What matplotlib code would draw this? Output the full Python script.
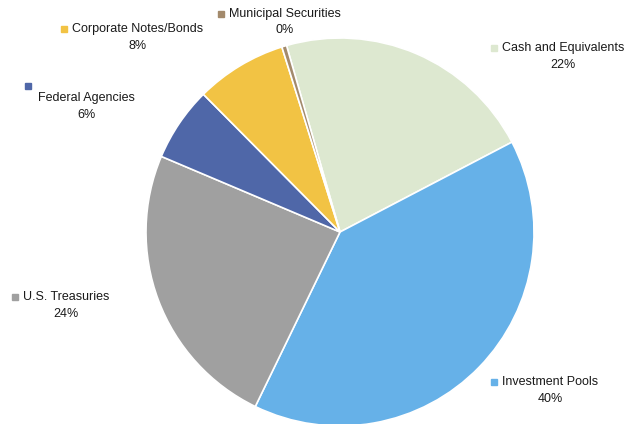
import matplotlib
matplotlib.use("Agg")
import matplotlib.pyplot as plt

# data
categories = ["Cash and Equivalents", "Investment Pools", "U.S. Treasuries",
              "Federal Agencies", "Corporate Notes/Bonds", "Municipal Securities"]
shares = [21.8, 39.9, 24.2, 6.2, 7.6, 0.4]
colors = ["#DDE8D0", "#66B1E8", "#A0A0A0", "#4F67A8", "#F2C344", "#A38A6C"]

# label block centres (pixels, from top-left) - manual placement like the original
label_pos = [(563, 56.5), (550, 390.5), (66, 305.5), (86, 106.5), (138, 37.5), (285, 22)]

plt.rcParams["font.family"] = ["Liberation Sans", "DejaVu Sans"]

W, H = 625, 424
fig = plt.figure(figsize=(W / 100, H / 100), dpi=100)
ax = fig.add_axes([0, 0, 1, 1])

ax.pie(shares, colors=colors, startangle=106, counterclock=False,
       center=(340, H - 232), radius=194,
       wedgeprops=dict(edgecolor="white", linewidth=1.2))

# pie() resets the limits, so set them afterwards
ax.set_xlim(0, W)
ax.set_ylim(0, H)
ax.set_aspect("equal")
ax.axis("off")

fig.canvas.draw()
renderer = fig.canvas.get_renderer()

total = sum(shares)
for name, val, col, (lx, ly) in zip(categories, shares, colors, label_pos):
    pct = "%d%%" % round(val / total * 100)
    txt = ax.text(lx, H - ly, name + "\n" + pct, ha="center", va="center",
                  multialignment="center", fontsize=9, linespacing=1.45,
                  color="#1a1a1a")
    bb = txt.get_window_extent(renderer)
    if name == "Federal Agencies":
        # marker sits on its own line above the wrapped label
        ax.plot(bb.x0 - 10, bb.y1 + 6, marker="s", markersize=4.5, color=col,
                linestyle="none")
    else:
        ax.plot(bb.x0 - 8, bb.y1 - 6, marker="s", markersize=4.5, color=col,
                linestyle="none")

fig.savefig("out.png", dpi=100)
